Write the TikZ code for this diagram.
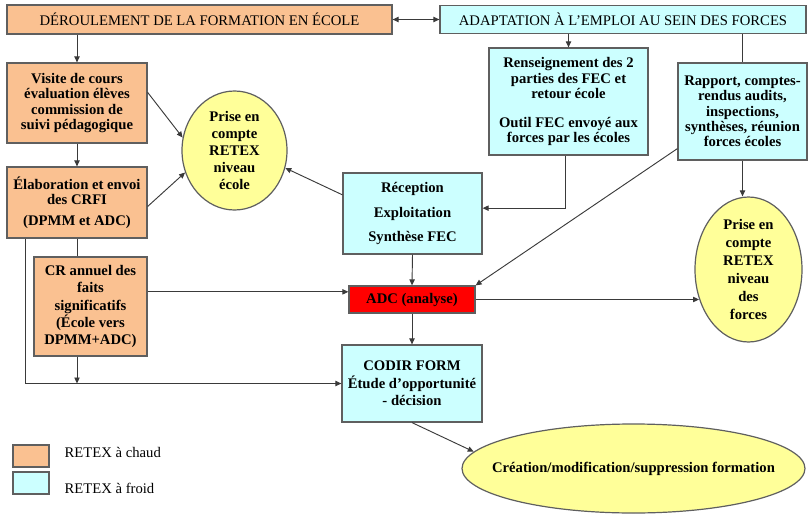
\documentclass[tikz,border=0pt]{standalone}
\usepackage{fontspec}
\setmainfont{Liberation Serif}
\usepackage{tikz}
\usetikzlibrary{positioning,arrows.meta,shapes.geometric,calc}
\definecolor{chaud}{HTML}{FAC191}
\definecolor{froid}{HTML}{CCFFFF}
\definecolor{retex}{HTML}{FFFF99}
\definecolor{analyse}{HTML}{FF0000}
\definecolor{bord}{HTML}{5F5F5F}
\definecolor{trait}{HTML}{3A3A3A}
\tikzset{
  every node/.style={font=\fontsize{11}{11.5}\selectfont},
  titre/.style={
    rectangle, draw=bord, line width=0.9pt,
    align=center, inner sep=1pt
  },
  bloc/.style={
    rectangle, draw=bord, line width=0.9pt,
    align=center, inner sep=1pt,
    font=\fontsize{11}{11.5}\selectfont\bfseries
  },
  retexell/.style={
    ellipse, draw=bord, fill=retex, line width=0.9pt,
    align=center, inner sep=0pt,
    font=\fontsize{11}{12.8}\selectfont\bfseries
  },
  legende/.style={
    rectangle, draw=bord, line width=0.9pt,
    minimum width=27pt, minimum height=16.5pt
  },
  arrow/.style={
    -{Triangle[length=4.5pt,width=4pt]},
    line width=0.7pt, draw=trait
  },
  dblarrow/.style={
    {Triangle[length=4.5pt,width=4pt]}-{Triangle[length=4.5pt,width=4pt]},
    line width=0.7pt, draw=trait
  },
  link/.style={line width=0.7pt, draw=trait},
}
\begin{document}
\begin{tikzpicture}[x=0.75pt,y=-0.75pt]
  \useasboundingbox (0,0) rectangle (811,514);
  \node[titre, fill=chaud, minimum width=288.75pt, minimum height=21.75pt] (deroul) at (199.5,19.5) {DÉROULEMENT DE LA FORMATION EN ÉCOLE};
  \node[titre, fill=froid, minimum width=274.5pt, minimum height=21pt] (adapt) at (623,19.5) {ADAPTATION À L’EMPLOI AU SEIN DES FORCES};
  \node[bloc, fill=chaud, minimum width=105pt, minimum height=60pt] (visite) at (77,103) {Visite de cours\\évaluation élèves\\commission de\\suivi pédagogique};
  \node[bloc, fill=chaud, minimum width=105pt, minimum height=53.25pt] (elab) at (77,202.5) {Élaboration et envoi\\des CRFI\\[4pt](DPMM et ADC)};
  \node[bloc, fill=chaud, minimum width=84.75pt, minimum height=74.25pt, font=\fontsize{11}{13}\selectfont\bfseries] (crann) at (90.5,306.5) {CR annuel des\\faits\\significatifs\\(École vers\\DPMM+ADC)};
  \node[retexell, minimum width=78.75pt, minimum height=89.25pt] (ecole) at (234.5,150.5) {Prise en\\compte\\RETEX\\niveau\\école};
  \node[bloc, fill=froid, minimum width=104.25pt, minimum height=60.75pt] (recep) at (412.5,213.5) {Réception\\[7pt]Exploitation\\[7pt]Synthèse FEC};
  \node[bloc, fill=froid, minimum width=119.25pt, minimum height=80.25pt] (rens) at (568.5,101.5) {Renseignement des 2\\parties des FEC et\\retour école\\[10pt]Outil FEC envoyé aux\\forces par les écoles};
  \node[bloc, fill=froid, minimum width=96.75pt, minimum height=72.75pt] (rapport) at (742.5,111.5) {Rapport, comptes-\\rendus audits,\\inspections,\\synthèses, réunion\\forces écoles};
  \node[retexell, minimum width=80.25pt, minimum height=108.75pt, font=\fontsize{11}{13.5}\selectfont\bfseries] (forces) at (748.5,269.5) {Prise en\\compte\\RETEX\\niveau\\des\\forces};
  \node[bloc, fill=analyse, minimum width=94.5pt, minimum height=20.25pt] (adc) at (412,299.5) {ADC (analyse)};
  \node[bloc, fill=froid, minimum width=105pt, minimum height=57.75pt, font=\fontsize{11}{13}\selectfont\bfseries] (codir) at (412,383.5) {CODIR FORM\\Étude d’opportunité\\- décision};
  \node[retexell, inner xsep=-40pt, minimum width=257.25pt, minimum height=66.75pt] (creation) at (633.5,468.5) {Création/modification/suppression formation};
  \node[legende, fill=chaud] (legchaud) at (31,456) {};
  \node[legende, fill=froid] (legfroid) at (31,483) {};
  \node[anchor=west] (txtchaud) at (60,452) {RETEX à chaud};
  \node[anchor=west] (txtfroid) at (60,488) {RETEX à froid};
  \draw[dblarrow] (deroul.east) -- (adapt.west);
  \draw[arrow] (deroul.south -| visite.north) -- (visite.north);
  \draw[arrow] (visite.south) -- (elab.north);
  \draw[link] (elab.south) -- (elab.south |- crann.north);
  \draw[arrow] ([xshift=14pt]elab.south west) |- (codir.west);
  \draw[arrow] (elab.south |- crann.south) -- (elab.south |- codir.west);
  \draw[arrow] ([yshift=8pt]visite.east) -- (ecole.166);
  \draw[arrow] ([yshift=-3pt]elab.east) -- (ecole.204);
  \draw[arrow] ([yshift=14pt]recep.west) -- (ecole.341);
  \draw[arrow] (adapt.south -| rens.north) -- (rens.north);
  \draw[link] (adapt.south -| rapport.north) -- (rapport.north);
  \draw[arrow] ([xshift=-2pt]rens.south) |- ([yshift=4pt]recep.east);
  \draw[arrow] (rapport.south) -- (rapport.south |- forces.north);
  \draw[arrow] ([yshift=9pt]rapport.south west) -- (adc.north east);
  \draw[arrow] (recep.south) -- (adc.north);
  \draw[arrow] ([yshift=11pt]crann.east) -- ([yshift=11pt]crann.east -| adc.west);
  \draw[arrow] (adc.east) -- ([xshift=3.5pt]forces.west |- adc.east);
  \draw[arrow] (adc.south) -- (codir.north);
  \draw[arrow] (codir.south) -- (creation.174.5);
\end{tikzpicture}
\end{document}
